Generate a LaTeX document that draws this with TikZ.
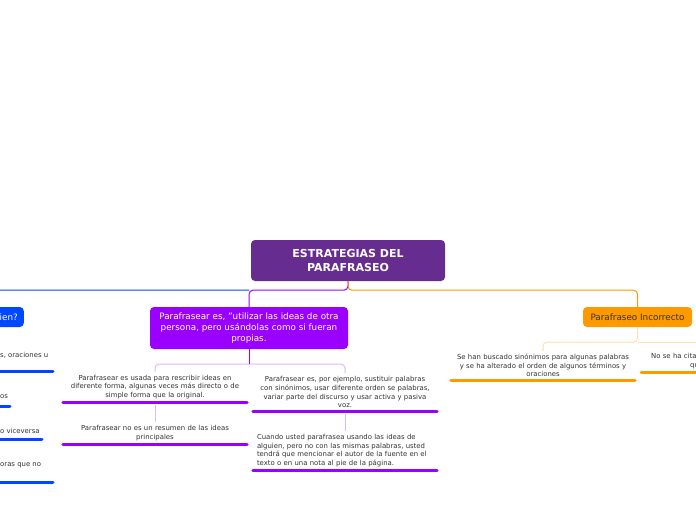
\documentclass[tikz,border=0pt]{standalone}
\usepackage{fontspec}
\setmainfont{DejaVu Sans}
\definecolor{raiz}{HTML}{672C90}
\definecolor{violeta}{HTML}{9900FF}
\definecolor{violetaclaro}{HTML}{DDB8FF}
\definecolor{azul}{HTML}{0048FF}
\definecolor{naranja}{HTML}{FF9900}
\definecolor{naranjaclaro}{HTML}{FFDFAA}
\definecolor{texto}{HTML}{333333}
\tikzset{
  tema/.style={rounded corners=4pt, inner sep=0pt, align=center},
  sub/.style={text width=176pt, align=center, inner xsep=4pt, inner ysep=3pt,
    text=texto, font=\fontsize{6.9}{8.6}\selectfont},
  raya/.style={line width=3pt, line cap=round},
  rama/.style={line width=1pt, rounded corners=4pt}
}

\begin{document}
\begin{tikzpicture}[x=1pt, y=-1pt]
\path[use as bounding box, fill=white] (0,0) rectangle (696,520);

\node[tema, fill=raiz, text=white, minimum width=194pt, minimum height=41pt,
  font=\bfseries\fontsize{11}{14}\selectfont] (raiz) at (348,260.5)
  {ESTRATEGIAS DEL\\PARAFRASEO};

\node[tema, fill=violeta, text=white, minimum width=198pt, minimum height=42pt,
  font=\fontsize{8.8}{11}\selectfont] (par) at (249,328)
  {Parafrasear es, "utilizar las ideas de otra\\persona, pero usándolas como si fueran\\propias.};
\node[tema, fill=azul, text=white, anchor=east, minimum height=20pt,
  text width=50pt, align=right, inner xsep=6pt,
  font=\fontsize{8.8}{11}\selectfont] (quien) at (24,317) {ien?};
\node[tema, fill=naranja, text=texto, minimum width=109pt, minimum height=20pt,
  font=\fontsize{8.8}{11}\selectfont] (inc) at (637.5,317) {Parafraseo Incorrecto};

\node[sub, anchor=south] (l1) at (155,402)
  {Parafrasear es usada para rescribir ideas en\\diferente forma, algunas veces más directo o de\\simple forma que la original.};
\node[sub, anchor=south] (l2) at (155,444)
  {Parafrasear no es un resumen de las ideas\\principales};
\node[sub, anchor=south] (r1) at (345,411)
  {Parafrasear es, por ejemplo, sustituir palabras\\con sinónimos, usar diferente orden se palabras,\\variar parte del discurso y usar activa y pasiva\\voz.};
\node[sub, anchor=south, align=left] (r2) at (345,470)
  {Cuando usted parafrasea usando las ideas de\\alguien, pero no con las mismas palabras, usted\\tendrá que mencionar el autor de la fuente en el\\texto o en una nota al pie de la página.};
\node[sub, anchor=south] (o1) at (543,380)
  {Se han buscado sinónimos para algunas palabras\\y se ha alterado el orden de algunos términos y\\oraciones};
\node[sub, anchor=south west, align=left] (o2) at (641,372)
  {\hspace*{6pt}No se ha cita\\\hspace*{45pt}qu};

\node[sub, text width=, anchor=west, inner sep=0pt] (b1) at (0,355) {s, oraciones u};
\node[sub, text width=, anchor=west, inner sep=0pt] (b2) at (0,397) {os};
\node[sub, text width=, anchor=west, inner sep=0pt] (b3) at (0,431) {o viceversa};
\node[sub, text width=, anchor=west, inner sep=0pt] (b4) at (0,465) {oras que no};

% ramas
\draw[rama, azul] (par.north |- 0,290) -| (quien.north);
\draw[rama, violeta] (raiz.south) -- ++(0,9) -| (par.north);
\draw[rama, naranja] (raiz.south) -- ++(0,9) -| (inc.north);

\draw[rama, violetaclaro] (par.south) ++(0,15) -| (l1.north);
\draw[rama, violetaclaro] (par.south) ++(0,15) -| (r1.north);
\draw[rama, violeta] (par.south) -- ++(0,15);
\draw[rama, violetaclaro] (l1.south) ++(0,3) -- (l2.north);
\draw[rama, violetaclaro] (r1.south) ++(0,3) -- (r2.north);

\draw[rama, naranjaclaro] (inc.south) -- ++(0,15) -| (o1.north);
\draw[rama, naranjaclaro] (inc.south) ++(0,15) -- ++(80,0);

% rayas
\draw[raya, violeta] (l1.south west) -- (l1.south east);
\draw[raya, violeta] (l2.south west) -- (l2.south east);
\draw[raya, violeta] (r1.south west) -- (r1.south east);
\draw[raya, violeta] (r2.south west) -- (r2.south east);
\draw[raya, naranja] (o1.south west) -- (o1.south east);
\draw[raya, naranja] (o2.south west) -- (o2.south east);
\draw[raya, azul] (-20,371) -- (53,371);
\draw[raya, azul] (-20,406) -- (10,406);
\draw[raya, azul] (-20,439) -- (42,439);
\draw[raya, azul] (-20,482) -- (53,482);
\end{tikzpicture}
\end{document}
